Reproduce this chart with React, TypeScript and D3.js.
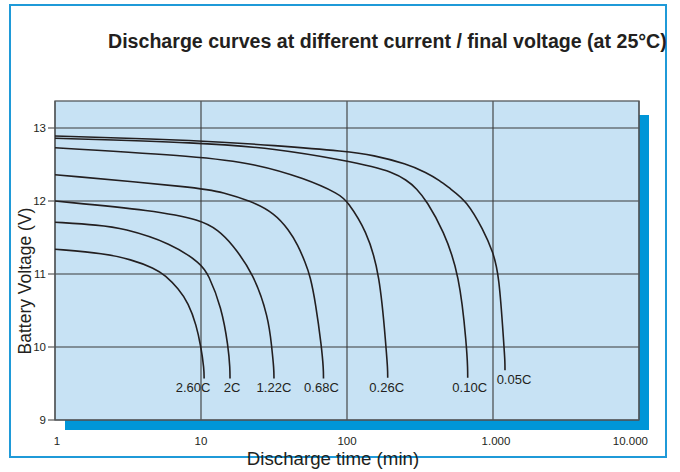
import React from "react";
import * as d3 from "d3";

const titleText = "Discharge curves at different current / final voltage (at 25°C)";
const xTitle = "Discharge time (min)";
const yTitle = "Battery Voltage (V)";

const xTickValues = [1, 10, 100, 1000, 10000];
const xTickLabels = ["1", "10", "100", "1.000", "10.000"];
const yTickValues = [9, 10, 11, 12, 13];
const yTickLabels = ["9", "10", "11", "12", "13"];

const categories = ["2.60C", "2C", "1.22C", "0.68C", "0.26C", "0.10C", "0.05C"];

const t260 = [1, 2.2, 3.3, 4.8, 5.7, 7, 8.2, 9.3, 10, 10.5, 10.5];
const v260 = [11.34, 11.28, 11.2, 11.08, 10.98, 10.8, 10.6, 10.3, 10.0, 9.7, 9.57];

const t200 = [1, 2, 2.9, 6.3, 10, 11.2, 13.8, 15.4, 15.8, 15.8];
const v200 = [11.71, 11.67, 11.63, 11.42, 11.14, 11.0, 10.55, 10.0, 9.7, 9.57];

const t122 = [1, 4.8, 10, 13.1, 16.2, 23, 29, 30.5, 31.6, 31.6];
const v122 = [12.0, 11.87, 11.74, 11.6, 11.42, 11.0, 10.4, 10.0, 9.7, 9.57];

const t068 = [1, 10, 14, 22, 32, 40, 46, 52, 56, 61, 67, 69, 69];
const v068 = [12.36, 12.18, 12.12, 12.0, 11.83, 11.6, 11.4, 11.15, 10.97, 10.6, 10.0, 9.7, 9.57];

const t026 = [1, 10, 23.4, 51.5, 89.6, 100, 136, 168, 185, 190, 190];
const v026 = [12.73, 12.61, 12.51, 12.31, 12.09, 12.0, 11.6, 11.0, 10.0, 9.7, 9.58];

const t010 = [1, 10, 32, 100, 150, 200, 256, 300, 351, 457, 589, 661, 671, 671];
const v010 = [12.86, 12.8, 12.72, 12.55, 12.47, 12.4, 12.29, 12.17, 12.0, 11.6, 11.0, 10.0, 9.7, 9.58];

const t005 = [1, 10, 32, 100, 150, 256, 350, 433, 507, 661, 860, 1000, 1100, 1190, 1208, 1208];
const v005 = [12.89, 12.83, 12.76, 12.68, 12.63, 12.51, 12.39, 12.28, 12.17, 12.0, 11.6, 11.3, 11.0, 10.0, 9.8, 9.68];

const seriesTimes = [t260, t200, t122, t068, t026, t010, t005];
const seriesVolts = [v260, v200, v122, v068, v026, v010, v005];

// label horizontal nudges (layout, px)
const labelDx = [-11, 2, 0, -2, -1, 2, 9];

const FONT = "'Liberation Sans', Arial, Helvetica, sans-serif";

export default function App() {
  const W = 680;
  const H = 472;
  const left = 55, right = 639, top = 101, bottom = 420;

  const x = d3.scaleLog().domain([1, 10000]).range([left, right]);
  const y = d3.scaleLinear().domain([9, 13.37]).range([bottom, top]);

  const line = d3
    .line<[number, number]>()
    .x((d) => x(d[0]))
    .y((d) => y(d[1]))
    .curve(d3.curveBasis);

  return (
    <svg
      width={W}
      height={H}
      style={{ position: "absolute", left: 0, top: 0, background: "#fff" }}
      fontFamily={FONT}
    >
      {/* outer frame */}
      <rect x={10} y={5} width={656} height={452} fill="none" stroke="#1f9ad8" strokeWidth={2} />

      {/* title */}
      <text x={108} y={48} fontSize={19.6} fontWeight="bold" fill="#231f20">
        {titleText}
      </text>

      {/* shadow */}
      <rect x={left + 10} y={top + 14} width={right - left} height={bottom + 10 - (top + 14)} fill="#0096d8" />

      {/* plot background */}
      <rect x={left} y={top} width={right - left} height={bottom - top} fill="#c7e2f4" />

      {/* horizontal gridlines + ticks */}
      {yTickValues.map((v, i) => (
        <g key={"y" + i}>
          <line x1={48} x2={right} y1={y(v)} y2={y(v)} stroke="#3a3a3a" strokeWidth={1.1} />
          <text x={46} y={y(v)} dy="0.35em" textAnchor="end" fontSize={11.5} fill="#231f20">
            {yTickLabels[i]}
          </text>
        </g>
      ))}

      {/* vertical gridlines */}
      {xTickValues.map((v, i) => (
        <g key={"x" + i}>
          <line x1={x(v)} x2={x(v)} y1={top} y2={bottom} stroke="#3a3a3a" strokeWidth={1.1} />
          <text
            x={i === xTickValues.length - 1 ? x(v) + 9 : x(v) + (i === 0 ? 2 : i === 3 ? 3 : 0)}
            y={445}
            textAnchor={i === xTickValues.length - 1 ? "end" : "middle"}
            fontSize={11.5}
            fill="#231f20"
          >
            {xTickLabels[i]}
          </text>
        </g>
      ))}

      {/* plot border */}
      <rect x={left} y={top} width={right - left} height={bottom - top} fill="none" stroke="#55595c" strokeWidth={1.3} />

      {/* curves */}
      {categories.map((c, i) => {
        const pts: [number, number][] = seriesTimes[i].map((t, j) => [t, seriesVolts[i][j]]);
        const last = pts[pts.length - 1];
        return (
          <g key={c}>
            <path d={line(pts) || ""} fill="none" stroke="#231f20" strokeWidth={1.6} />
            <text
              x={x(last[0]) + labelDx[i]}
              y={y(last[1]) + 14}
              textAnchor="middle"
              fontSize={13}
              fill="#231f20"
            >
              {c}
            </text>
          </g>
        );
      })}

      {/* axis titles */}
      <text x={333} y={465} textAnchor="middle" fontSize={18.7} fill="#231f20">
        {xTitle}
      </text>
      <text
        transform={`translate(31,281) rotate(-90)`}
        textAnchor="middle"
        fontSize={17.5}
        fill="#231f20"
      >
        {yTitle}
      </text>
    </svg>
  );
}
